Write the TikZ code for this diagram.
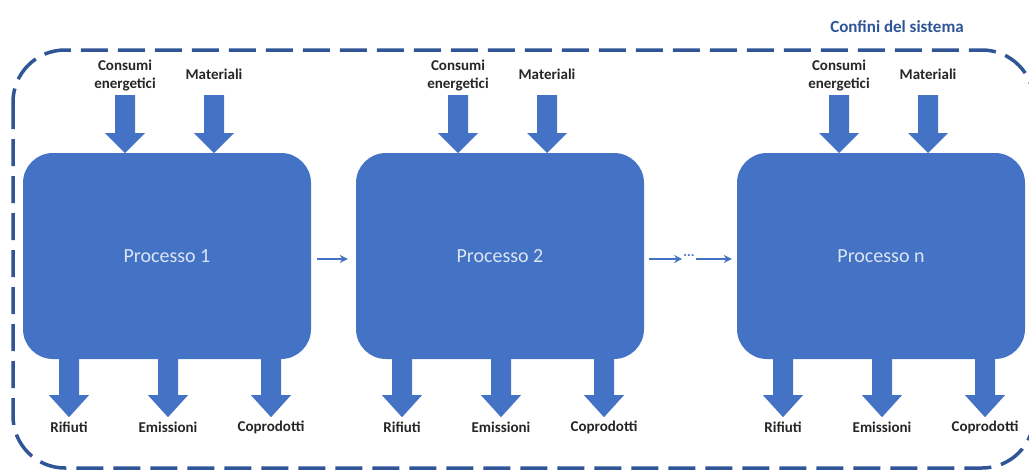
\documentclass[tikz,border=0pt]{standalone}
\usepackage{fontspec}
\setmainfont{Carlito}
\usetikzlibrary{arrows.meta,calc}
\definecolor{boxblue}{HTML}{4472C4}
\definecolor{edgeblue}{HTML}{2F5597}
\definecolor{labelgray}{HTML}{262626}
\definecolor{proctext}{HTML}{DCE5F4}
% block arrow pointing down: #1 start coordinate (top centre), #2 shaft length, #3 head length
\newcommand\blockdown[3]{\fill[boxblue] ($(#1)+(-10,0)$) -- ++(20,0) -- ++(0,#2) -- ++(10,0) -- ++(-20,#3) -- ++(-20,-#3) -- ++(10,0) -- cycle;}
\tikzset{
  proc/.style={fill=boxblue, draw=none, rounded corners=30pt, minimum width=288pt, minimum height=206pt,
    text=proctext, font=\fontsize{20}{24}\selectfont, inner sep=0pt},
  lbl/.style={text=labelgray, font=\bfseries\fontsize{15}{18}\selectfont, align=center, inner sep=1pt},
  boundary/.style={draw=edgeblue, line width=3.5pt, dash pattern=on 27pt off 10pt, rounded corners=52pt},
  flow/.style={draw=boxblue, line width=2pt, -{Stealth[length=8pt,width=8pt]}},
}
\begin{document}
\begin{tikzpicture}[x=1pt,y=-1pt]
\useasboundingbox (0,0) rectangle (1029,472);
\draw[boundary] (13,50) rectangle (1034,468);
\node[text=edgeblue, font=\bfseries\fontsize{17}{20}\selectfont] (title) at (897,27) {Confini del sistema};
\foreach \i/\cx/\lab in {1/167/1, 2/500/2, 3/881/n} {
  \node[proc] (p\i) at (\cx,256) {Processo \lab};
  \node[lbl] (c\i) at (\cx-42,76) {Consumi\\energetici};
  \node[lbl] (m\i) at (\cx+47,74) {Materiali};
  \node[lbl] (r\i) at (\cx-98,427) {Rifiuti};
  \node[lbl] (e\i) at (\cx+1,427) {Emissioni};
  \node[lbl] (k\i) at (\cx+104,427) {Coprodotti};
  \coordinate (ca\i) at (\cx-42,95);
  \coordinate (ma\i) at (\cx+47,95);
  \blockdown{ca\i}{38}{20}
  \blockdown{ma\i}{38}{20}
  \coordinate (ra\i) at ($(p\i.south)+(-98,0)$);
  \coordinate (ea\i) at ($(p\i.south)+(1,0)$);
  \coordinate (ka\i) at ($(p\i.south)+(104,0)$);
  \blockdown{ra\i}{36}{22}
  \blockdown{ea\i}{36}{22}
  \blockdown{ka\i}{36}{22}
}
\node[text=boxblue, font=\bfseries\fontsize{14}{16}\selectfont, inner sep=1pt] (dots) at (689,256) {...};
\draw[flow] ($(p1.east)+(6,3)$) -- ($(p2.west)+(-8,3)$);
\draw[flow] ($(p2.east)+(5,3)$) -- (dots.west |- 0,259);
\draw[flow] (dots.east |- 0,259) -- ($(p3.west)+(-5,3)$);
\end{tikzpicture}
\end{document}
